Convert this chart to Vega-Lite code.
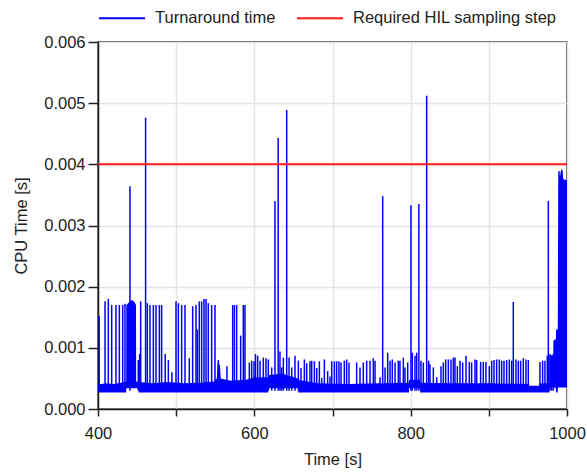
{
  "$schema": "https://vega.github.io/schema/vega-lite/v6.json",
  "width": 469,
  "height": 367,
  "autosize": {"type": "none"},
  "padding": {"left": 98, "top": 42, "right": 20, "bottom": 63},
  "background": "white",
  "config": {
    "font": "Liberation Sans",
    "view": {"stroke": "#222222", "strokeWidth": 1.5},
    "axis": {
      "domainColor": "#222222", "domainWidth": 1.5,
      "tickColor": "#222222", "tickWidth": 1.5,
      "gridColor": "#e4e4e4", "gridWidth": 1.5,
      "labelFont": "Liberation Sans", "labelFontSize": 16.5, "labelColor": "#222222",
      "titleFont": "Liberation Sans", "titleFontSize": 16.5, "titleFontWeight": "normal", "titleColor": "#222222",
      "labelFlush": false, "labelOverlap": false
    },
    "legend": {
      "labelFont": "Liberation Sans", "labelFontSize": 16.5, "labelColor": "#222222", "labelLimit": 0
    }
  },
  "datasets": {
    "band": [
      {"t": 400, "lo": 0.00027, "hi": 0.00040},
      {"t": 410, "lo": 0.00027, "hi": 0.00042},
      {"t": 420, "lo": 0.00027, "hi": 0.00041},
      {"t": 430, "lo": 0.00027, "hi": 0.00043},
      {"t": 436, "lo": 0.00027, "hi": 0.00045},
      {"t": 436.2, "lo": 0.00034, "hi": 0.0017},
      {"t": 438, "lo": 0.00034, "hi": 0.00172},
      {"t": 441, "lo": 0.00034, "hi": 0.00176},
      {"t": 444, "lo": 0.00034, "hi": 0.00178},
      {"t": 447, "lo": 0.00034, "hi": 0.00174},
      {"t": 448.6, "lo": 0.00034, "hi": 0.0017},
      {"t": 448.8, "lo": 0.00034, "hi": 0.00045},
      {"t": 451.8, "lo": 0.00034, "hi": 0.00044},
      {"t": 452, "lo": 0.00027, "hi": 0.00044},
      {"t": 470, "lo": 0.00027, "hi": 0.00042},
      {"t": 490, "lo": 0.00027, "hi": 0.00044},
      {"t": 510, "lo": 0.00027, "hi": 0.00042},
      {"t": 530, "lo": 0.00027, "hi": 0.00043},
      {"t": 548, "lo": 0.00027, "hi": 0.00045},
      {"t": 552, "lo": 0.00027, "hi": 0.0005},
      {"t": 553, "lo": 0.00027, "hi": 0.00075},
      {"t": 556, "lo": 0.00027, "hi": 0.00072},
      {"t": 557, "lo": 0.00027, "hi": 0.0005},
      {"t": 570, "lo": 0.00027, "hi": 0.00046},
      {"t": 590, "lo": 0.00027, "hi": 0.00048},
      {"t": 600, "lo": 0.00027, "hi": 0.00052},
      {"t": 617.8, "lo": 0.00027, "hi": 0.00052},
      {"t": 618, "lo": 0.00034, "hi": 0.00055},
      {"t": 635, "lo": 0.00034, "hi": 0.00058},
      {"t": 656, "lo": 0.00034, "hi": 0.0005},
      {"t": 656.2, "lo": 0.00027, "hi": 0.00048},
      {"t": 680, "lo": 0.00027, "hi": 0.00042},
      {"t": 720, "lo": 0.00027, "hi": 0.00041},
      {"t": 760, "lo": 0.00027, "hi": 0.00042},
      {"t": 797.8, "lo": 0.00027, "hi": 0.00043},
      {"t": 798, "lo": 0.00034, "hi": 0.00048},
      {"t": 812, "lo": 0.00034, "hi": 0.00048},
      {"t": 812.2, "lo": 0.00027, "hi": 0.00043},
      {"t": 850, "lo": 0.00027, "hi": 0.00042},
      {"t": 900, "lo": 0.00027, "hi": 0.00042},
      {"t": 950, "lo": 0.00027, "hi": 0.00041},
      {"t": 952, "lo": 0.00027, "hi": 0.00038},
      {"t": 964, "lo": 0.00027, "hi": 0.00038},
      {"t": 966, "lo": 0.00027, "hi": 0.00042},
      {"t": 977.6, "lo": 0.00027, "hi": 0.00042},
      {"t": 977.8, "lo": 0.00035, "hi": 0.00088},
      {"t": 982.4, "lo": 0.00035, "hi": 0.00088},
      {"t": 982.6, "lo": 0.00035, "hi": 0.00112},
      {"t": 985.8, "lo": 0.00035, "hi": 0.00114},
      {"t": 986, "lo": 0.00027, "hi": 0.0013},
      {"t": 988, "lo": 0.00027, "hi": 0.0013},
      {"t": 988.2, "lo": 0.00035, "hi": 0.0013},
      {"t": 988.8, "lo": 0.00035, "hi": 0.00389},
      {"t": 990.5, "lo": 0.00035, "hi": 0.00389},
      {"t": 991, "lo": 0.00035, "hi": 0.0038},
      {"t": 992.5, "lo": 0.00035, "hi": 0.00392},
      {"t": 994.5, "lo": 0.00035, "hi": 0.0039},
      {"t": 995, "lo": 0.00035, "hi": 0.00378},
      {"t": 996, "lo": 0.00035, "hi": 0.00375},
      {"t": 1000, "lo": 0.00035, "hi": 0.00375}
    ],
    "spikes": [
      {"t": 401.5, "v": 0.00152}, {"t": 409, "v": 0.00176}, {"t": 413.2, "v": 0.0018}, {"t": 417.5, "v": 0.0017},
      {"t": 423, "v": 0.0017}, {"t": 427.3, "v": 0.0017}, {"t": 431.6, "v": 0.0017}, {"t": 434.5, "v": 0.00172},
      {"t": 440.9, "v": 0.00364}, {"t": 451.5, "v": 0.0008}, {"t": 453.3, "v": 0.0009}, {"t": 454.6, "v": 0.00176},
      {"t": 460.9, "v": 0.00476}, {"t": 463.1, "v": 0.00173}, {"t": 466.5, "v": 0.0017}, {"t": 470.8, "v": 0.0017},
      {"t": 474.2, "v": 0.0017}, {"t": 478.5, "v": 0.0017}, {"t": 481.4, "v": 0.0017}, {"t": 486, "v": 0.0009},
      {"t": 490, "v": 0.0008}, {"t": 494.5, "v": 0.0006}, {"t": 499.8, "v": 0.00176}, {"t": 502.8, "v": 0.00173},
      {"t": 507, "v": 0.0017}, {"t": 511.3, "v": 0.0017}, {"t": 516.8, "v": 0.00083}, {"t": 521.1, "v": 0.00168},
      {"t": 525.4, "v": 0.0017}, {"t": 527.1, "v": 0.0013}, {"t": 529.6, "v": 0.00176}, {"t": 532.6, "v": 0.00176},
      {"t": 535.6, "v": 0.0018}, {"t": 538.2, "v": 0.0018}, {"t": 541.1, "v": 0.00173}, {"t": 545.4, "v": 0.0017},
      {"t": 549.7, "v": 0.0017}, {"t": 553.9, "v": 0.0008}, {"t": 565, "v": 0.0007}, {"t": 572.3, "v": 0.0017},
      {"t": 574.5, "v": 0.0017}, {"t": 577.4, "v": 0.0017}, {"t": 582.5, "v": 0.0012}, {"t": 585.9, "v": 0.0017},
      {"t": 588, "v": 0.0017}, {"t": 593.6, "v": 0.00076}, {"t": 596.6, "v": 0.00079}, {"t": 599.6, "v": 0.00078},
      {"t": 601.5, "v": 0.0009}, {"t": 604.3, "v": 0.00087}, {"t": 607.3, "v": 0.00079}, {"t": 611.5, "v": 0.00084},
      {"t": 614.9, "v": 0.00083}, {"t": 617.9, "v": 0.00081}, {"t": 622.2, "v": 0.00068}, {"t": 626.4, "v": 0.0034},
      {"t": 630.5, "v": 0.00443}, {"t": 632.8, "v": 0.00094}, {"t": 635, "v": 0.00068}, {"t": 637.1, "v": 0.00084},
      {"t": 641.4, "v": 0.00489}, {"t": 644.4, "v": 0.00084}, {"t": 647.8, "v": 0.00068}, {"t": 652, "v": 0.00087},
      {"t": 656.3, "v": 0.00079}, {"t": 659.7, "v": 0.00067}, {"t": 664, "v": 0.00081}, {"t": 667, "v": 0.00075},
      {"t": 671.2, "v": 0.00078}, {"t": 673.4, "v": 0.00079}, {"t": 676.8, "v": 0.00078}, {"t": 679.8, "v": 0.00067},
      {"t": 683.2, "v": 0.00078}, {"t": 686.2, "v": 0.00051}, {"t": 689.6, "v": 0.00081}, {"t": 693.8, "v": 0.00062},
      {"t": 696.8, "v": 0.00053}, {"t": 699, "v": 0.00078}, {"t": 702.4, "v": 0.00078}, {"t": 705.3, "v": 0.00078},
      {"t": 708.3, "v": 0.00078}, {"t": 710.9, "v": 0.00076}, {"t": 715.1, "v": 0.00079}, {"t": 718.1, "v": 0.00081},
      {"t": 721.1, "v": 0.00076}, {"t": 730.9, "v": 0.00076}, {"t": 735.2, "v": 0.00068}, {"t": 739.4, "v": 0.00076},
      {"t": 743.7, "v": 0.00079}, {"t": 748, "v": 0.00079}, {"t": 752.2, "v": 0.00083}, {"t": 754.4, "v": 0.00079},
      {"t": 760.8, "v": 0.00052}, {"t": 764.2, "v": 0.00348}, {"t": 767.2, "v": 0.00068}, {"t": 770.6, "v": 0.00092},
      {"t": 773.6, "v": 0.00079}, {"t": 776.5, "v": 0.00081}, {"t": 780, "v": 0.00076}, {"t": 784.2, "v": 0.00079},
      {"t": 786.3, "v": 0.00079}, {"t": 790.6, "v": 0.00084}, {"t": 792.7, "v": 0.00068}, {"t": 796.2, "v": 0.00076},
      {"t": 800.4, "v": 0.00333}, {"t": 802.1, "v": 0.00092}, {"t": 805.5, "v": 0.00087}, {"t": 807.7, "v": 0.00092},
      {"t": 810.5, "v": 0.00335}, {"t": 813.2, "v": 0.00079}, {"t": 816.2, "v": 0.00076}, {"t": 820.5, "v": 0.00512},
      {"t": 823, "v": 0.00079}, {"t": 824.7, "v": 0.00073}, {"t": 829, "v": 0.00068}, {"t": 833.3, "v": 0.00052},
      {"t": 838.8, "v": 0.0007}, {"t": 841.8, "v": 0.00076}, {"t": 844.8, "v": 0.00081}, {"t": 848.2, "v": 0.00081},
      {"t": 851.6, "v": 0.00081}, {"t": 854.6, "v": 0.00084}, {"t": 856.7, "v": 0.00084}, {"t": 859.7, "v": 0.0007},
      {"t": 863.1, "v": 0.00079}, {"t": 866.5, "v": 0.00076}, {"t": 870.8, "v": 0.00087}, {"t": 875, "v": 0.00077},
      {"t": 878, "v": 0.00076}, {"t": 882.3, "v": 0.00081}, {"t": 884.4, "v": 0.0008}, {"t": 889.5, "v": 0.00077},
      {"t": 892.9, "v": 0.00077}, {"t": 896.3, "v": 0.00077}, {"t": 900.6, "v": 0.0007}, {"t": 903.6, "v": 0.00079},
      {"t": 906.6, "v": 0.0008}, {"t": 910, "v": 0.00081}, {"t": 913.4, "v": 0.00081}, {"t": 916.4, "v": 0.00079},
      {"t": 919.4, "v": 0.00079}, {"t": 922.8, "v": 0.0008}, {"t": 926.2, "v": 0.00081}, {"t": 929.2, "v": 0.00079},
      {"t": 931.3, "v": 0.00175}, {"t": 934.7, "v": 0.00081}, {"t": 937.7, "v": 0.00079}, {"t": 940.7, "v": 0.00079},
      {"t": 944.1, "v": 0.00083}, {"t": 947.5, "v": 0.00081}, {"t": 950.5, "v": 0.0008}, {"t": 965.4, "v": 0.00077},
      {"t": 968.8, "v": 0.00079}, {"t": 971.8, "v": 0.00079}, {"t": 974.8, "v": 0.00087}, {"t": 976.1, "v": 0.0034},
      {"t": 978.2, "v": 0.0009}, {"t": 980.4, "v": 0.00084}, {"t": 982.5, "v": 0.0009}, {"t": 986.7, "v": 0.00114}
    ],
    "limit": [{"v": 0.004}]
  },
  "layer": [
    {
      "data": {"name": "band"},
      "mark": {"type": "area", "color": "#0000ff", "interpolate": "linear", "opacity": 1, "clip": true},
      "encoding": {
        "x": {"field": "t", "type": "quantitative", "scale": {"domain": [400, 1000], "nice": false, "zero": false},
              "axis": {"values": [400, 500, 600, 700, 800, 900, 1000], "labelExpr": "datum.value % 200 == 0 ? datum.label : ''",
                       "format": "d", "tickSize": 7, "labelPadding": 9, "title": "Time [s]", "titlePadding": 10, "grid": true}},
        "y": {"field": "hi", "type": "quantitative", "scale": {"domain": [0, 0.006], "nice": false},
              "axis": {"values": [0, 0.001, 0.002, 0.003, 0.004, 0.005, 0.006], "format": ".3f", "tickSize": 10, "labelPadding": 3,
                       "title": "CPU Time [s]", "titlePadding": 14, "grid": true}},
        "y2": {"field": "lo"}
      }
    },
    {
      "data": {"name": "spikes"},
      "mark": {"type": "rule", "strokeWidth": 1.5, "clip": true},
      "encoding": {
        "x": {"field": "t", "type": "quantitative"},
        "y": {"field": "v", "type": "quantitative"},
        "y2": {"datum": 0.0003},
        "color": {"datum": "Turnaround time", "type": "nominal",
                  "scale": {"domain": ["Turnaround time", "Required HIL sampling step"], "range": ["#0000ff", "#ff1a1a"]},
                  "legend": {"title": null, "orient": "none", "direction": "horizontal", "legendX": 0, "legendY": -48,
                             "symbolType": "stroke", "symbolSize": 2116, "symbolStrokeWidth": 2, "labelOffset": 9, "columnPadding": 17}}
      }
    },
    {
      "data": {"name": "limit"},
      "mark": {"type": "rule", "strokeWidth": 2, "clip": true},
      "encoding": {
        "y": {"field": "v", "type": "quantitative"},
        "color": {"datum": "Required HIL sampling step", "type": "nominal"}
      }
    }
  ]
}
